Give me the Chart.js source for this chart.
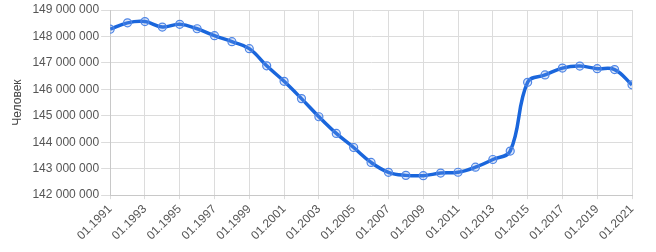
<!DOCTYPE html>
<html><head><meta charset="utf-8">
<script src="https://cdn.jsdelivr.net/npm/chart.js@4"></script>
<style>html,body{margin:0;padding:0;background:#fff}#w{width:656px;height:252px}</style>
</head><body><div id="w"><canvas id="c"></canvas></div>
<script>
const years = [1991,1992,1993,1994,1995,1996,1997,1998,1999,2000,2001,2002,2003,2004,2005,2006,2007,2008,2009,2010,2011,2012,2013,2014,2015,2016,2017,2018,2019,2020,2021];
const population = [148273746,148514692,148561694,148355867,148459937,148291638,148028613,147802133,147539426,146890128,146303611,145649334,144963650,144333586,143801046,143236582,142862692,142747535,142737196,142833502,142865433,143056383,143347059,143666931,146267288,146544710,146804372,146880432,146780720,146748590,146171015];
const yTicks = [142000000,143000000,144000000,145000000,146000000,147000000,148000000,149000000];
const yTitle = 'Человек';

const fmt = v => String(Math.round(v)).replace(/\B(?=(\d{3})+(?!\d))/g, ' ');
new Chart(document.getElementById('c'), {
  type: 'line',
  data: { datasets: [{
    data: years.map((y,i)=>({x:y, y:population[i]})),
    borderColor: '#1a66dc',
    borderWidth: 3.5,
    tension: 0.4,
    pointRadius: 4,
    pointBorderWidth: 1.2,
    pointBorderColor: '#4f86e6',
    pointBackgroundColor: 'rgba(120,160,235,0.25)',
    fill: false
  }]},
  options: {
    responsive: true, maintainAspectRatio: false, animation: false,
    layout: { padding: { top: 10, right: 24, left: 10, bottom: 6 } },
    plugins: { legend: { display: false }, tooltip: { enabled: false } },
    scales: {
      x: {
        type: 'linear', min: years[0], max: years[years.length-1],
        afterBuildTicks: ax => { ax.ticks = years.filter((y,i)=>i%2===0).map(v=>({value:v})); },
        ticks: { callback: v => '01.' + v, maxRotation: 45, minRotation: 45, color: '#555', font: { family: 'Liberation Sans, Arial', size: 12 }, padding: 3 },
        grid: { color: '#dcdcdc', tickLength: 4 },
        border: { color: '#c8c8c8' }
      },
      y: {
        min: yTicks[0], max: yTicks[yTicks.length-1],
        afterBuildTicks: ax => { ax.ticks = yTicks.map(v=>({value:v})); },
        ticks: { callback: v => fmt(v), color: '#555', font: { family: 'Liberation Sans, Arial', size: 12 }, padding: 2 },
        grid: { color: '#dcdcdc', tickLength: 9 },
        border: { color: '#c8c8c8' },
        title: { display: true, text: yTitle, color: '#444', font: { family: 'Liberation Sans, Arial', size: 12 }, padding: { top: 0, bottom: 6 } }
      }
    }
  }
});
</script></body></html>
